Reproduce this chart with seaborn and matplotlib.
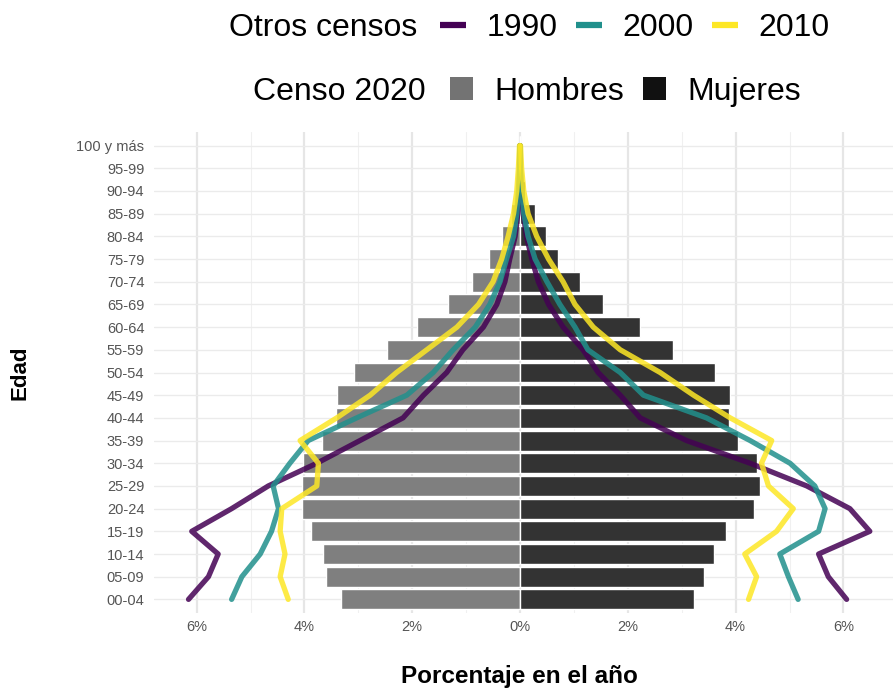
import numpy as np
import pandas as pd
import matplotlib
matplotlib.use("Agg")
import matplotlib.pyplot as plt
import seaborn as sns
from matplotlib.lines import Line2D
from matplotlib.patches import Patch
from matplotlib.ticker import FixedLocator, FuncFormatter

# ---------------- data ----------------
edades = ["00-04", "05-09", "10-14", "15-19", "20-24", "25-29", "30-34",
          "35-39", "40-44", "45-49", "50-54", "55-59", "60-64", "65-69",
          "70-74", "75-79", "80-84", "85-89", "90-94", "95-99", "100 y más"]

hombres_2020 = [3.33, 3.60, 3.65, 3.88, 4.05, 4.04, 4.02, 3.68, 3.42, 3.40,
                3.08, 2.47, 1.92, 1.33, 0.89, 0.57, 0.34, 0.17, 0.07, 0.02, 0.005]
mujeres_2020 = [3.22, 3.41, 3.59, 3.82, 4.34, 4.45, 4.40, 4.04, 3.88, 3.90,
                3.62, 2.83, 2.23, 1.54, 1.12, 0.70, 0.48, 0.28, 0.10, 0.03, 0.006]

hombres_1990 = [6.15, 5.78, 5.60, 6.09, 5.35, 4.67, 3.77, 2.97, 2.17, 1.79,
                1.36, 1.06, 0.68, 0.43, 0.28, 0.19, 0.09, 0.04, 0.015, 0.005, 0.002]
mujeres_1990 = [6.06, 5.72, 5.54, 6.49, 6.12, 5.32, 4.27, 3.09, 2.23, 1.86,
                1.45, 1.17, 0.80, 0.53, 0.34, 0.22, 0.12, 0.06, 0.02, 0.005, 0.002]
hombres_2000 = [5.35, 5.16, 4.82, 4.61, 4.48, 4.58, 4.27, 3.93, 3.03, 2.10,
                1.61, 1.24, 0.83, 0.56, 0.37, 0.25, 0.12, 0.06, 0.03, 0.01, 0.003]
mujeres_2000 = [5.16, 4.98, 4.82, 5.54, 5.66, 5.47, 5.01, 4.27, 3.46, 2.29,
                1.86, 1.26, 1.02, 0.74, 0.50, 0.28, 0.15, 0.07, 0.03, 0.01, 0.003]
hombres_2010 = [4.30, 4.45, 4.36, 4.45, 4.42, 3.77, 3.74, 4.08, 3.40, 2.78,
                2.29, 1.73, 1.17, 0.77, 0.50, 0.34, 0.22, 0.12, 0.06, 0.03, 0.01]
mujeres_2010 = [4.24, 4.39, 4.17, 4.76, 5.07, 4.61, 4.48, 4.67, 3.90, 3.22,
                2.60, 1.86, 1.36, 1.02, 0.80, 0.53, 0.31, 0.15, 0.07, 0.03, 0.01]

censos = ["1990", "2000", "2010"]
sexos = ["Hombres", "Mujeres"]
x_ticks = [-6, -4, -2, 0, 2, 4, 6]

# ---------------- tables ----------------
bars = pd.DataFrame({
    "edad": edades * 2,
    "pct": [-v for v in hombres_2020] + mujeres_2020,
    "sexo": ["Hombres"] * len(edades) + ["Mujeres"] * len(edades),
})

order = edades[::-1]  # top to bottom
pos = {e: order.index(e) for e in edades}

series = {("1990", "H"): hombres_1990, ("1990", "M"): mujeres_1990,
          ("2000", "H"): hombres_2000, ("2000", "M"): mujeres_2000,
          ("2010", "H"): hombres_2010, ("2010", "M"): mujeres_2010}
rows = []
for (c, s), vals in series.items():
    for e, v in zip(edades, vals):
        rows.append({"censo": c, "lado": s,
                     "pct": -v if s == "H" else v, "ypos": pos[e]})
lines = pd.DataFrame(rows)

# ---------------- figure ----------------
sns.set_theme(style="white")
plt.rcParams["font.family"] = ["Liberation Sans", "DejaVu Sans"]
plt.rcParams["text.color"] = "black"

W, H = 893, 688
fig = plt.figure(figsize=(W / 100, H / 100), dpi=100)
ax_l, ax_r, ax_t, ax_b = 154, 893, 132, 613
ax = fig.add_axes([ax_l / W, 1 - ax_b / H, (ax_r - ax_l) / W, (ax_b - ax_t) / H])

bar_cols = {"Hombres": "#7f7f7f", "Mujeres": "#333333"}
line_cols = {"1990": "#440154", "2000": "#21908C", "2010": "#FDE725"}

sns.barplot(data=bars, x="pct", y="edad", hue="sexo", order=order,
            hue_order=sexos, palette=bar_cols, dodge=False, width=0.88,
            orient="h", saturation=1, legend=False, ax=ax, zorder=2)

sns.lineplot(data=lines, x="pct", y="ypos", hue="censo", units="lado",
             estimator=None, sort=False, orient="y", hue_order=censos,
             palette=line_cols, linewidth=3.8, alpha=0.85, legend=False,
             ax=ax, zorder=3)

# scales
unit = 53.9
ax.set_xlim(-(520 - ax_l) / unit, (ax_r - 520) / unit)
ax.set_ylim(len(order) - 0.4, -0.6)
ax.xaxis.set_major_locator(FixedLocator(x_ticks))
ax.xaxis.set_minor_locator(FixedLocator([-7, -5, -3, -1, 1, 3, 5, 7]))
ax.xaxis.set_major_formatter(FuncFormatter(lambda v, p: f"{abs(v):.0f}%"))
ax.set_yticks(range(len(order)))
ax.set_yticklabels(order)

ax.grid(True, which="major", axis="x", color="#e6e6e6", linewidth=1.6, zorder=0)
ax.grid(True, which="minor", axis="x", color="#f0f0f0", linewidth=0.8, zorder=0)
ax.grid(True, which="major", axis="y", color="#ebebeb", linewidth=1.0, zorder=0)
ax.set_axisbelow(True)
for sp in ax.spines.values():
    sp.set_visible(False)
ax.tick_params(axis="both", which="both", length=0, colors="#555555",
               labelsize=10.5)
ax.tick_params(axis="y", pad=7)
ax.tick_params(axis="x", pad=5)

ax.set_xlabel("Porcentaje en el año", fontsize=17.5, fontweight="bold",
              color="black")
ax.set_ylabel("Edad", fontsize=16, fontweight="bold", color="black")
ax.xaxis.label.set_va("center")
ax.xaxis.set_label_coords((519 - ax_l) / (ax_r - ax_l), (ax_b - 676) / (ax_b - ax_t))
ax.yaxis.label.set_va("center")
ax.yaxis.label.set_ha("center")
ax.yaxis.set_label_coords((20 - ax_l) / (ax_r - ax_l), (ax_b - 373) / (ax_b - ax_t))

# ---------------- legends ----------------
fs = 23
y1 = 1 - 28 / H
y2 = 1 - 92 / H
fig.text(229 / W, y1, "Otros censos", ha="left", va="center", fontsize=fs,
         color="black")
lh = [Line2D([], [], color=line_cols[c], lw=4.5, solid_capstyle="butt") for c in censos]
fig.legend(lh, censos, loc="center left", bbox_to_anchor=(440 / W, y1),
           ncol=3, frameon=False, fontsize=fs, handlelength=0.82,
           handletextpad=0.64, columnspacing=0.57, borderpad=0,
           borderaxespad=0, labelcolor="black")

fig.text(253 / W, y2, "Censo 2020", ha="left", va="center", fontsize=fs,
         color="black")
ph = [Patch(facecolor="#737373", edgecolor="none"),
      Patch(facecolor="#111111", edgecolor="none")]
fig.legend(ph, sexos, loc="center left", bbox_to_anchor=(450 / W, y2),
           ncol=2, frameon=False, fontsize=fs, handlelength=0.72,
           handleheight=0.72, handletextpad=0.66, columnspacing=0.6,
           borderpad=0, borderaxespad=0, labelcolor="black")

fig.savefig("out.png", dpi=100, facecolor="white")
